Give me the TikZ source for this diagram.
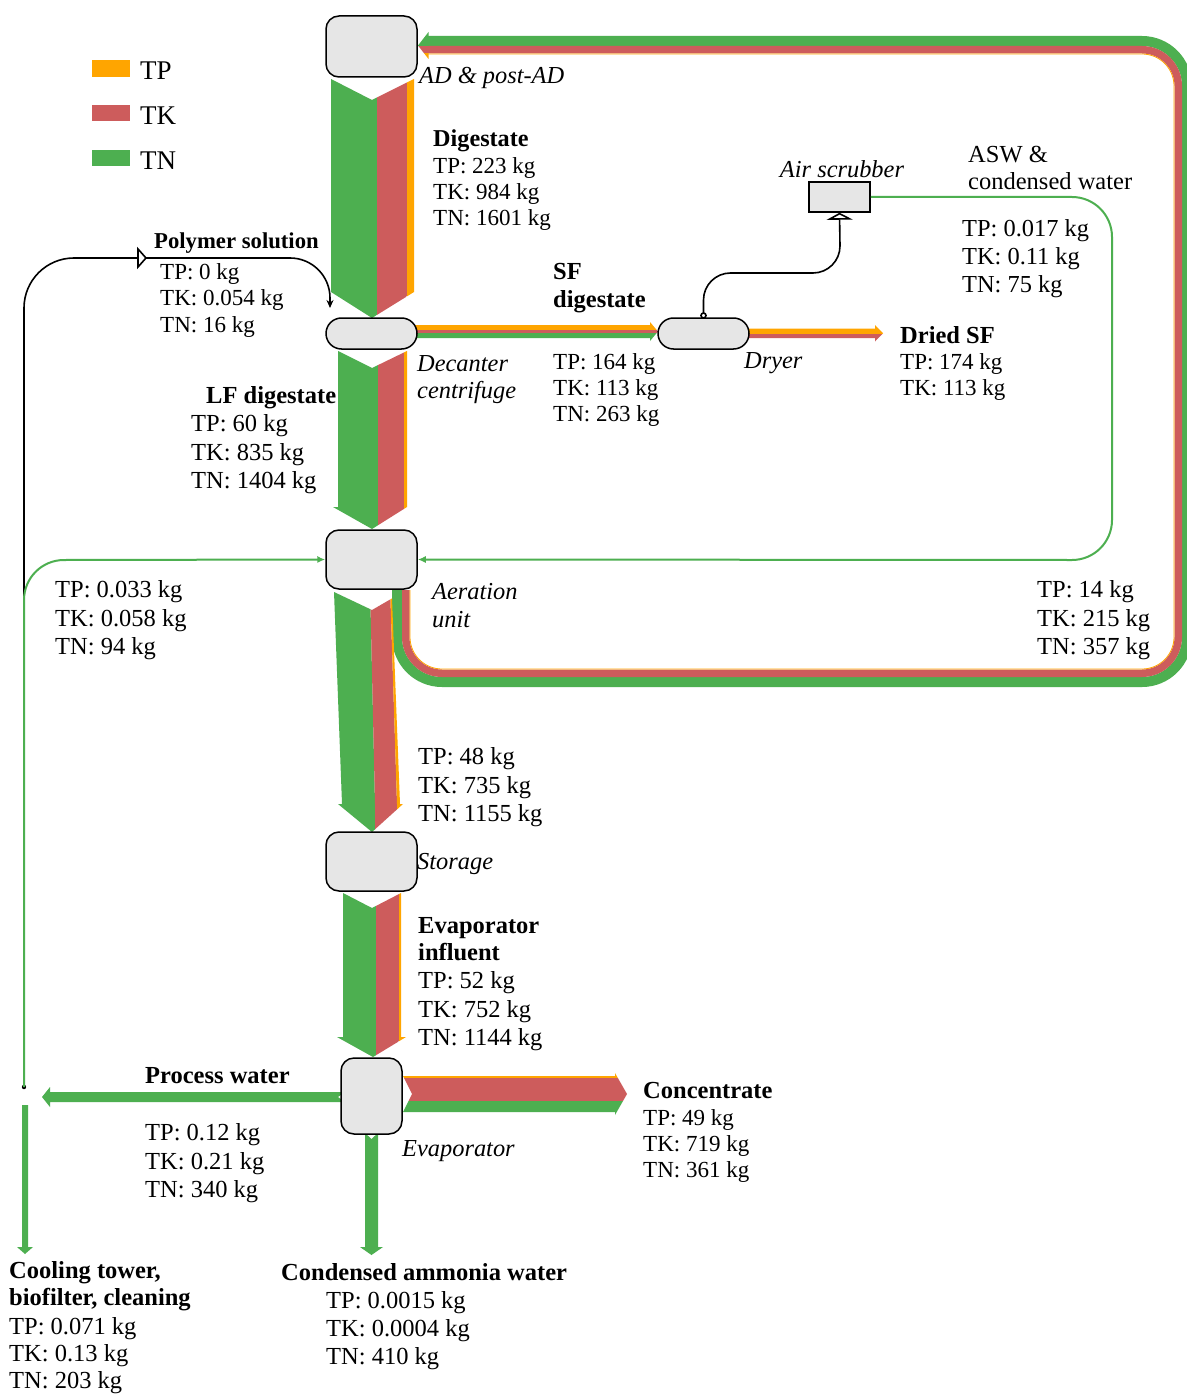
\documentclass[tikz,border=0pt]{standalone}
\usepackage{fontspec}
\setmainfont{Liberation Serif}
\usetikzlibrary{arrows.meta}
\definecolor{cTP}{RGB}{255,165,0}
\definecolor{cTK}{RGB}{205,92,92}
\definecolor{cTN}{RGB}{77,175,80}
\definecolor{boxgray}{RGB}{230,230,230}
\tikzset{
  sbox/.style={draw=black, line width=1.5pt, fill=boxgray, rounded corners=13pt, inner sep=0pt},
  slbl/.style={anchor=west, inner sep=0pt, yshift=-2.5pt, align=left, font=\fontsize{23}{26}\selectfont},
  slbig/.style={anchor=west, inner sep=0pt, yshift=-2.5pt, align=left, font=\fontsize{24.5}{28.5}\selectfont},
  sbold/.style={anchor=west, inner sep=0pt, yshift=-2.5pt, align=left, font=\fontsize{24.5}{27}\selectfont\bfseries},
  sital/.style={anchor=west, inner sep=0pt, yshift=-2pt, align=left, font=\fontsize{24.4}{27}\selectfont\itshape},
  thinG/.style={draw=cTN, line width=2pt, -{Latex[length=8pt,width=7pt]}},
  thinK/.style={draw=black, line width=1.6pt},
}
\begin{document}
\begin{tikzpicture}[x=1pt,y=-1pt]
\useasboundingbox (0,0) rectangle (1186,1396);
\fill[white] (0,0) rectangle (1186,1396);

% ---------- legend ----------
\fill[cTP] (92,60) rectangle (130,77);
\fill[cTK] (92,105) rectangle (130,121);
\fill[cTN] (92,150) rectangle (130,166);
\node[slbl, font=\fontsize{27}{30}\selectfont] (lgP) at (140,68) {TP};
\node[slbl, font=\fontsize{27}{30}\selectfont] (lgK) at (140,113) {TK};
\node[slbl, font=\fontsize{27}{30}\selectfont] (lgN) at (140,158) {TN};

% ---------- recycle loop (aeration -> AD) ----------
\draw[cTN, line width=10pt, rounded corners=45pt] (397,590) -- (397,682) -- (1187,682) -- (1187,41) -- (428,41);
\draw[cTK, line width=7.5pt, rounded corners=36.25pt] (405.75,590) -- (405.75,673.25) -- (1178.25,673.25) -- (1178.25,49.75) -- (428,49.75);
\draw[cTP, line width=0.8pt, rounded corners=32pt] (410,590) -- (410,669) -- (1174,669) -- (1174,54) -- (428,54);
\begin{scope}
  \clip (428.5,32) -- (418,45.5) -- (428.5,59) -- cycle;
  \fill[cTN] (410,25) rectangle (430,46);
  \fill[cTK] (410,46) rectangle (430,53.5);
  \fill[cTP] (410,53.5) rectangle (430,65);
\end{scope}

% ---------- Digestate (AD -> decanter) ----------
\begin{scope}
  \clip (331,79) -- (372,100) -- (414,79) -- (414,292) -- (372,318) -- (331,292) -- cycle;
  \fill[cTN] (320,70) rectangle (377,330);
  \fill[cTK] (377,70) rectangle (407,330);
  \fill[cTP] (407,70) rectangle (420,330);
\end{scope}

% ---------- LF digestate (decanter -> aeration) ----------
\begin{scope}
  \clip (338,351) -- (372,368) -- (407,351) -- (407,507) -- (372,529) -- (333,507) -- (338,507) -- cycle;
  \fill[cTN] (320,345) rectangle (378,535);
  \fill[cTK] (378,345) rectangle (404,535);
  \fill[cTP] (404,345) rectangle (415,535);
\end{scope}

% ---------- aeration -> storage ----------
\begin{scope}
  \clip (334,592) -- (372,610) -- (392,598.4) -- (400,804) -- (403,804) -- (372,832) -- (338,804) -- (342,804) -- cycle;
  \fill[cTN] (325,585) -- (370,585) -- (375,804) -- (375,840) -- (325,840) -- cycle;
  \fill[cTK] (370,585) -- (390,585) -- (397,804) -- (397,840) -- (375,840) -- (375,804) -- cycle;
  \fill[cTP] (390,585) -- (400,585) -- (410,840) -- (397,840) -- (397,804) -- cycle;
\end{scope}

% ---------- evaporator influent (storage -> evaporator) ----------
\begin{scope}
  \clip (343,893) -- (372,908) -- (401,893) -- (401,1037) -- (406,1037) -- (373,1057) -- (337,1037) -- (343,1037) -- cycle;
  \fill[cTN] (330,885) rectangle (376,1065);
  \fill[cTK] (376,885) rectangle (399,1065);
  \fill[cTP] (399,885) rectangle (412,1065);
\end{scope}

% ---------- SF digestate (decanter -> dryer) ----------
\begin{scope}
  \clip (400,325) -- (650,325) -- (650,322) -- (658,331.5) -- (650,341) -- (650,338) -- (400,338) -- cycle;
  \fill[cTP] (395,318) rectangle (665,330);
  \fill[cTK] (395,330) rectangle (665,333);
  \fill[cTN] (395,333) rectangle (665,345);
\end{scope}

% ---------- Dried SF ----------
\begin{scope}
  \clip (740,328.5) -- (875,328.5) -- (875,325) -- (883,333.25) -- (875,341.5) -- (875,338) -- (740,338) -- cycle;
  \fill[cTP] (735,320) rectangle (890,333.5);
  \fill[cTK] (735,333.5) rectangle (890,345);
\end{scope}

% ---------- Concentrate ----------
\begin{scope}
  \clip (403,1076) -- (615,1076) -- (615,1073) -- (627,1094) -- (615,1115) -- (615,1112) -- (403,1112) -- (412,1094) -- cycle;
  \fill[cTP] (400,1068) rectangle (630,1078);
  \fill[cTK] (400,1078) rectangle (630,1101);
  \fill[cTN] (400,1101) rectangle (630,1120);
\end{scope}

% ---------- Process water ----------
\fill[cTN] (345,1092) -- (50,1092) -- (50,1087) -- (42,1097) -- (50,1107) -- (50,1102) -- (345,1102) -- (338,1097) -- cycle;

% ---------- Condensed ammonia water ----------
\fill[cTN] (365,1133) -- (371.5,1139) -- (378,1133) -- (378,1247) -- (383,1247) -- (371.5,1255) -- (360,1247) -- (365,1247) -- cycle;

% ---------- Cooling tower ----------
\fill[cTN] (22,1105) -- (28,1105) -- (28,1247) -- (33,1247) -- (25,1254) -- (17,1247) -- (22,1247) -- cycle;

% ---------- process nodes ----------
\node[sbox, minimum width=91pt, minimum height=61pt] (ad) at (371.5,46.5) {};
\node[sbox, rounded corners=15.5pt, minimum width=91pt, minimum height=31pt] (dec) at (371.5,333.5) {};
\node[sbox, minimum width=91pt, minimum height=59pt] (aer) at (371.5,559.5) {};
\node[sbox, minimum width=91pt, minimum height=59pt] (sto) at (371.5,861.5) {};
\node[sbox, minimum width=61pt, minimum height=76pt] (eva) at (371.5,1096) {};
\node[sbox, rounded corners=15.5pt, minimum width=91pt, minimum height=31pt] (dry) at (703.5,333.5) {};
\node[sbox, sharp corners, minimum width=61pt, minimum height=30pt] (scr) at (839.5,197) {};

% ---------- thin connectors ----------
\coordinate (jn) at (24,1087);
% polymer solution (black)
\draw[thinK, -{Stealth[length=8pt,width=7pt]}] (jn) -- (24,308) arc[start angle=180,end angle=270,radius=50] -- (290,258) arc[start angle=270,end angle=360,radius=40] -- (330,308);
\draw[thinK, fill=white] (138,249) -- (146,258) -- (138,267) -- cycle;
\fill[black] (jn) circle (2.2pt);
% green water to aeration (left)
\draw[thinG] (jn) -- (24,600) arc[start angle=180,end angle=270,radius=40] -- (aer.west);
% ASW & condensed water (scrubber -> aeration)
\draw[thinG] (scr.east) -- (1072,197) arc[start angle=270,end angle=360,radius=40] -- (1112,520) arc[start angle=0,end angle=90,radius=40] -- (aer.east);
% dryer exhaust -> air scrubber
\coordinate (dryo) at (703.5,315.5);
\draw[thinK, -{Triangle[open,length=7pt,width=26pt]}] (dryo) -- (703.5,300) arc[start angle=180,end angle=270,radius=27] -- (813,273) arc[start angle=90,end angle=0,radius=27] -- (scr.south);
\draw[thinK, fill=white] (dryo) circle (2.5pt);

% ---------- labels ----------
\node[sital] (tAD) at (419,76) {AD \& post-AD};
\node[sbold, font=\fontsize{24.2}{27}\selectfont\bfseries] (tDig) at (433,138) {Digestate};
\node[slbl] (vDig) at (433,192) {TP: 223 kg\\TK: 984 kg\\TN: 1601 kg};

\node[sital, anchor=center] (tScr) at (842,167) {Air scrubber};
\node[slbig, font=\fontsize{24.5}{27}\selectfont] (tASW) at (968,165.5) {ASW \&\\condensed water};
\node[slbig, font=\fontsize{24.4}{28}\selectfont] (vASW) at (962,256) {TP: 0.017 kg\\TK: 0.11 kg\\TN: 75 kg};

\node[sbold, font=\fontsize{22.7}{27}\selectfont\bfseries] (tPol) at (154,241) {Polymer solution};
\node[slbl, font=\fontsize{23}{26.5}\selectfont] (vPol) at (160,298) {TP: 0 kg\\TK: 0.054 kg\\TN: 16 kg};

\node[sbold, font=\fontsize{24.5}{28}\selectfont\bfseries] (tSF) at (553,286) {SF\\digestate};
\node[slbl] (vSF) at (553,388) {TP: 164 kg\\TK: 113 kg\\TN: 263 kg};
\node[sital] (tDec) at (417,377.5) {Decanter\\centrifuge};
\node[sital] (tDry) at (744,361) {Dryer};
\node[sbold] (tDSF) at (900,333) {Dried SF};
\node[slbl] (vDSF) at (900,375) {TP: 174 kg\\TK: 113 kg};

\node[sbold] (tLF) at (206,395) {LF digestate};
\node[slbig] (vLF) at (191,452) {TP: 60 kg\\TK: 835 kg\\TN: 1404 kg};

\node[slbig] (vWat) at (55,618) {TP: 0.033 kg\\TK: 0.058 kg\\TN: 94 kg};
\node[sital, font=\fontsize{24.4}{28}\selectfont\itshape] (tAer) at (432,604) {Aeration\\unit};
\node[slbig] (vRec) at (1037,618) {TP: 14 kg\\TK: 215 kg\\TN: 357 kg};

\node[slbig] (vSto) at (418,785) {TP: 48 kg\\TK: 735 kg\\TN: 1155 kg};
\node[sital] (tSto) at (417,862) {Storage};

\node[sbold] (tEI) at (418,936.5) {Evaporator\\influent};
\node[slbig] (vEI) at (418,1009) {TP: 52 kg\\TK: 752 kg\\TN: 1144 kg};

\node[sbold] (tPW) at (145,1073) {Process water};
\node[slbig] (vPW) at (145,1161) {TP: 0.12 kg\\TK: 0.21 kg\\TN: 340 kg};

\node[sbold] (tCon) at (643,1088) {Concentrate};
\node[slbl] (vCon) at (643,1143) {TP: 49 kg\\TK: 719 kg\\TN: 361 kg};
\node[sital] (tEva) at (402,1149) {Evaporator};

\node[sbold] (tCT) at (9,1283.5) {Cooling tower,\\biofilter, cleaning};
\node[slbig, font=\fontsize{24.5}{27}\selectfont] (vCT) at (9,1353) {TP: 0.071 kg\\TK: 0.13 kg\\TN: 203 kg};

\node[sbold] (tCAW) at (281,1270) {Condensed ammonia water};
\node[slbig, font=\fontsize{24.5}{28}\selectfont] (vCAW) at (326,1328) {TP: 0.0015 kg\\TK: 0.0004 kg\\TN: 410 kg};
\end{tikzpicture}
\end{document}
